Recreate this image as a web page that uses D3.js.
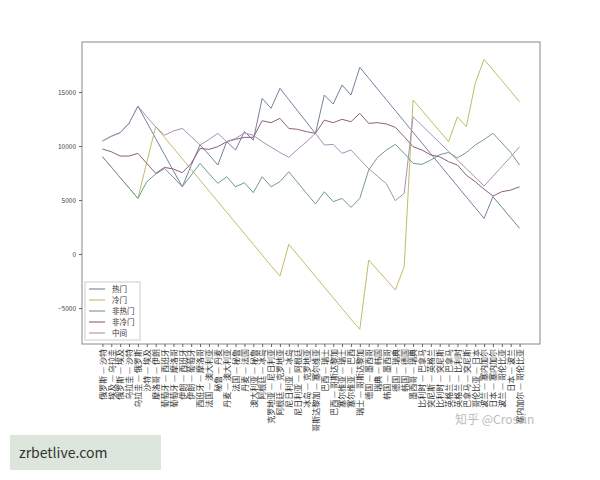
<!DOCTYPE html><html><head><meta charset="utf-8"><script src="https://cdn.jsdelivr.net/npm/d3@7"></script>
<style>body{margin:0;background:#fff}text{font-family:"Noto Sans CJK SC","DejaVu Sans",sans-serif}</style></head><body><svg id="c" width="600" height="480"></svg><script>
const categories=["俄罗斯 — 沙特","埃及 — 乌拉圭","俄罗斯 — 埃及","乌拉圭 — 沙特","乌拉圭 — 俄罗斯","沙特 — 埃及","摩洛哥 — 伊朗","葡萄牙 — 西班牙","葡萄牙 — 摩洛哥","伊朗 — 西班牙","伊朗 — 葡萄牙","西班牙 — 摩洛哥","法国 — 澳大利亚","秘鲁 — 丹麦","丹麦 — 澳大利亚","法国 — 秘鲁","丹麦 — 法国","澳大利亚 — 秘鲁","阿根廷 — 冰岛","克罗地亚 — 尼日利亚","阿根廷 — 克罗地亚","尼日利亚 — 冰岛","尼日利亚 — 阿根廷","冰岛 — 克罗地亚","哥斯达黎加 — 塞尔维亚","巴西 — 瑞士","巴西 — 哥斯达黎加","塞尔维亚 — 瑞士","塞尔维亚 — 巴西","瑞士 — 哥斯达黎加","德国 — 墨西哥","瑞典 — 韩国","韩国 — 墨西哥","德国 — 瑞典","韩国 — 德国","墨西哥 — 瑞典","比利时 — 巴拿马","突尼斯 — 英格兰","比利时 — 突尼斯","英格兰 — 巴拿马","英格兰 — 比利时","巴拿马 — 突尼斯","哥伦比亚 — 日本","波兰 — 塞内加尔","日本 — 塞内加尔","波兰 — 哥伦比亚","日本 — 波兰","塞内加尔 — 哥伦比亚"];
const hot=[10460,10900,11230,12100,13700,12200,10700,9200,7700,6230,8200,10090,9200,8240,10400,9630,11330,10550,14410,13490,15340,14300,13250,12200,11170,14720,13890,15650,14720,17280,16280,15280,14280,13280,12280,11280,10280,9280,8280,7280,6280,5280,4300,3300,5310,4330,3350,2380];
const cold=[9010,8050,7080,6120,5150,8500,11790,10800,9810,8820,7830,6840,5850,4860,3870,2880,1890,900,-90,-1080,-2040,900,-90,-1080,-2070,-3060,-4050,-5040,-6030,-6970,-560,-1480,-2400,-3330,-1170,14260,13300,12330,11370,10400,12700,11790,15800,18020,17040,16060,15080,14100];
const notHot=[9010,8050,7080,6120,5150,6700,7400,7930,7100,6230,7300,8390,7450,6540,7160,6230,6600,5680,7160,6230,6700,7620,6620,5620,4630,5770,4850,5150,4320,5150,7780,8950,9630,10150,9320,8390,8300,8700,9200,9400,8900,9400,10090,10600,11170,10300,9400,8240];
const notCold=[9720,9470,9070,9070,9320,8390,7470,8020,7870,7530,8390,9780,9690,9940,10400,10620,10800,10800,12340,12160,12560,11630,11540,11330,11170,12400,12160,12470,12250,13020,12100,12160,12040,11730,10860,9940,9630,9170,9010,8550,8240,7300,6700,6000,5370,5770,5920,6230];
const middle=[10460,10900,11230,12100,13700,12700,11790,11000,11400,11630,10860,10090,10600,11170,10400,10700,11200,11000,10400,9900,9400,8950,9700,10400,11170,10090,10150,9320,9630,8760,7900,7200,6500,4940,5620,12700,11900,11100,10300,9500,8700,7900,7100,6300,7200,8100,9000,9940];
const seriesNames=["热门","冷门","非热门","非冷门","中间"];
const yTicks=[-5000,0,5000,10000,15000];
const series=[hot,cold,notHot,notCold,middle];
const colors=["#72829a","#c2bb6a","#6f9c8c","#8e6079","#a393b2"];
const svg=d3.select("#c");
const L=82,R=540,T=42,B=344;
const x=d3.scalePoint().domain(d3.range(categories.length)).range([L,R]).padding(2.3);
const y=d3.scaleLinear().domain([-8330,19630]).range([B,T]);
svg.append("rect").attr("x",L).attr("y",T).attr("width",R-L).attr("height",B-T).attr("fill","none").attr("stroke","#888");
const ya=svg.append("g").attr("transform",`translate(${L},0)`).call(d3.axisLeft(y).tickValues(yTicks).tickSize(3).tickFormat(d3.format("d")));
ya.select(".domain").remove();ya.selectAll("text").attr("font-size",6.5).attr("fill","#444");ya.selectAll("line").attr("stroke","#666");
const xa=svg.append("g").attr("transform",`translate(0,${B})`).call(d3.axisBottom(x).tickSize(3).tickFormat(i=>categories[i]));
xa.select(".domain").remove();xa.selectAll("line").attr("stroke","#666");
xa.selectAll("text").attr("font-size",8).attr("fill","#333").attr("transform","rotate(-90)").attr("text-anchor","end").attr("x",-5).attr("y",0).attr("dy","0.35em");
const line=d3.line().x((d,i)=>x(i)).y(d=>y(d));
series.forEach((s,k)=>svg.append("path").attr("d",line(s)).attr("fill","none").attr("stroke",colors[k]).attr("stroke-width",1));
const lg=svg.append("g");
lg.append("rect").attr("x",85).attr("y",282).attr("width",55).attr("height",58).attr("fill","#fff").attr("stroke","#ccc");
seriesNames.forEach((n,k)=>{const yy=289+k*11;lg.append("line").attr("x1",89).attr("x2",105).attr("y1",yy).attr("y2",yy).attr("stroke",colors[k]).attr("stroke-width",1.1);
lg.append("text").attr("x",112).attr("y",yy+3).attr("font-size",7.5).attr("fill","#333").text(n);});
svg.append("text").attr("x",455).attr("y",424).attr("font-size",12).attr("fill","#bbb").text("知乎 @Crossin");
svg.append("rect").attr("x",10).attr("y",435).attr("width",151).attr("height",35).attr("fill","#dde6dc");
svg.append("text").attr("x",19).attr("y",458).attr("font-size",14).attr("fill","#333").text("zrbetlive.com");
</script></body></html>
